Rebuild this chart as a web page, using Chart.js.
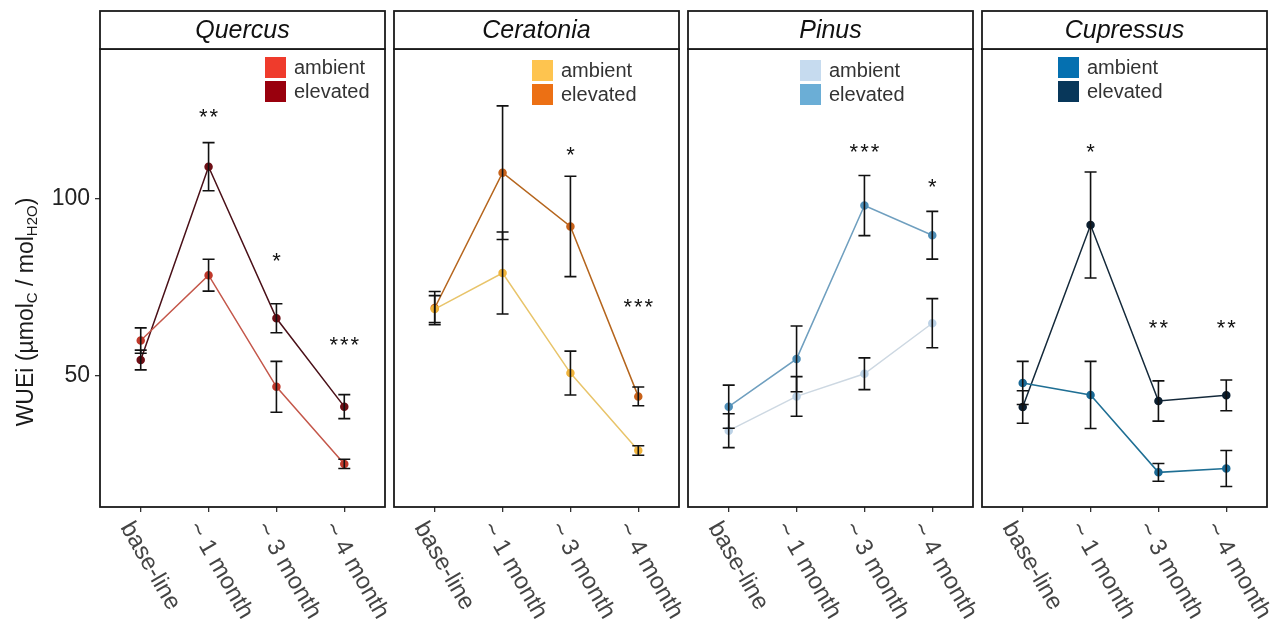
<!DOCTYPE html>
<html>
<head>
<meta charset="utf-8">
<title>WUEi</title>
<script src="https://cdn.jsdelivr.net/npm/chart.js@4.4.1/dist/chart.umd.min.js"></script>
<style>
    html, body { margin: 0; padding: 0; background: #fff; }
    #fig { position: relative; width: 1281px; height: 632px; overflow: hidden; }
    .panel { position: absolute; top: 0; height: 632px; }
</style>
</head>
<body>
<div id="fig">
    <div class="panel" style="left:0;width:421px"><canvas id="canvas-quercus"></canvas></div>
    <div class="panel" style="left:388px;width:327px"><canvas id="canvas-ceratonia"></canvas></div>
    <div class="panel" style="left:682px;width:327px"><canvas id="canvas-pinus"></canvas></div>
    <div class="panel" style="left:976px;width:305px"><canvas id="canvas-cupressus"></canvas></div>
</div>
<script>
'use strict';

/* global Chart */

const categories = ['base-line', '~ 1 month', '~ 3 month', '~ 4 month'];
const yTicks = [50, 100];

// Quercus
const quercusAmbient = [59.9, 78.4, 46.8, 25.0];
const quercusAmbientSe = [3.6, 4.5, 7.2, 1.3];
const quercusElevated = [54.4, 109.1, 66.2, 41.2];
const quercusElevatedSe = [2.8, 6.8, 4.1, 3.4];
const quercusSig = ['', '**', '*', '***'];
const quercusSigY = [null, 124.6, 83.9, 60.1];

// Ceratonia
const ceratoniaAmbient = [68.8, 79.0, 50.7, 28.8];
const ceratoniaAmbientSe = [3.8, 11.6, 6.2, 1.35];
const ceratoniaElevated = [69.1, 107.4, 92.2, 44.1];
const ceratoniaElevatedSe = [4.7, 18.9, 14.2, 2.65];
const ceratoniaSig = ['', '', '*', '***'];
const ceratoniaSigY = [null, null, 113.9, 70.7];

// Pinus
const pinusAmbient = [34.4, 44.1, 50.5, 64.8];
const pinusAmbientSe = [4.8, 5.6, 4.5, 6.95];
const pinusElevated = [41.2, 54.7, 98.1, 89.7];
const pinusElevatedSe = [6.1, 9.3, 8.5, 6.75];
const pinusSig = ['', '', '***', '*'];
const pinusSigY = [null, null, 114.6, 104.9];

// Cupressus
const cupressusAmbient = [47.9, 44.5, 22.6, 23.7];
const cupressusAmbientSe = [6.1, 9.5, 2.5, 5.1];
const cupressusElevated = [41.1, 92.6, 42.8, 44.4];
const cupressusElevatedSe = [4.6, 15.0, 5.7, 4.35];
const cupressusSig = ['', '*', '**', '**'];
const cupressusSigY = [null, 114.8, 65.0, 65.0];

const FONT = "'Liberation Sans', Arial, sans-serif";

// Tout le décor autour du graphique : bandeau, cadre, légende, barres d'erreur, étoiles
const panelDeco = {
    id: 'panelDeco',
    afterDatasetsDraw(chart, args, o) {
        const c = chart.ctx;
        const xs = chart.scales.x;
        const ys = chart.scales.y;
        // barres d'erreur
        c.save();
        c.strokeStyle = '#111';
        c.lineWidth = 1.6;
        chart.data.datasets.forEach(ds => {
            ds.data.forEach((p, i) => {
                const x = xs.getPixelForValue(p.x);
                const yT = ys.getPixelForValue(p.y + ds.se[i]);
                const yB = ys.getPixelForValue(p.y - ds.se[i]);
                c.beginPath();
                c.moveTo(x, yT); c.lineTo(x, yB);
                c.moveTo(x - 6, yT); c.lineTo(x + 6, yT);
                c.moveTo(x - 6, yB); c.lineTo(x + 6, yB);
                c.stroke();
            });
        });
        // étoiles de significativité
        c.fillStyle = '#111';
        c.font = '22px ' + FONT;
        c.letterSpacing = '2px';
        c.textAlign = 'center';
        c.textBaseline = 'alphabetic';
        o.sig.forEach((s, i) => {
            if (!s) return;
            c.fillText(s, xs.getPixelForValue(i) + 1, ys.getPixelForValue(o.sigY[i]) + 12);
        });
        c.restore();
    },
    afterDraw(chart, args, o) {
        const c = chart.ctx;
        const a = chart.chartArea;
        const xs = chart.scales.x;
        c.save();
        // cadre du panneau
        c.strokeStyle = '#1a1a1a';
        c.lineWidth = 1.8;
        c.strokeRect(a.left, a.top, a.right - a.left, a.bottom - a.top);
        // bandeau du titre
        c.fillStyle = '#fff';
        c.fillRect(a.left, a.top - 38, a.right - a.left, 38);
        c.strokeRect(a.left, a.top - 38, a.right - a.left, 38);
        c.fillStyle = '#111';
        c.font = 'italic 25px ' + FONT;
        c.textAlign = 'center';
        c.textBaseline = 'middle';
        c.fillText(o.title, (a.left + a.right) / 2, a.top - 18);
        // légende
        c.font = '20px ' + FONT;
        c.textAlign = 'left';
        chart.data.datasets.forEach((ds, k) => {
            const lx = a.left + o.legendX;
            const ly = a.top + o.legendY + k * 24;
            c.fillStyle = ds.legendColor;
            c.fillRect(lx, ly, 21, 21);
            c.fillStyle = '#333';
            c.fillText(ds.label, lx + 29, ly + 11);
        });
        // étiquettes de l'axe x, tournées
        c.fillStyle = '#444';
        c.font = '24px ' + FONT;
        c.textBaseline = 'middle';
        categories.forEach((lab, i) => {
            c.save();
            c.translate(xs.getPixelForValue(i) - 15, a.bottom + 17);
            c.rotate(Math.PI / 3);
            c.fillText(lab, 0, 0);
            c.restore();
        });
        // titre de l'axe y (seulement le premier panneau)
        if (o.yTitle) {
            const parts = [
                ['WUEi (\u00b5mol', 23, 0],
                ['C', 15, 6],
                [' / mol', 23, 0],
                ['H2O', 15, 6],
                [')', 23, 0]
            ];
            let total = 0;
            parts.forEach(p => { c.font = p[1] + 'px ' + FONT; total += c.measureText(p[0]).width; });
            c.translate(27, 312);
            c.rotate(-Math.PI / 2);
            c.fillStyle = '#1a1a1a';
            c.textBaseline = 'middle';
            let x = -total / 2;
            parts.forEach(p => {
                c.font = p[1] + 'px ' + FONT;
                c.fillText(p[0], x, p[2]);
                x += c.measureText(p[0]).width;
            });
        }
        c.restore();
    }
};

function makePanel(canvasId, cfg) {
    const ctx = document.getElementById(canvasId).getContext('2d');
    const toPoints = arr => arr.map((v, i) => ({ x: i, y: v }));
    // eslint-disable-next-line no-unused-vars
    return new Chart(ctx, {
        type: 'line',
        data: {
            datasets: [
                {
                    label: 'ambient',
                    data: toPoints(cfg.ambient),
                    se: cfg.ambientSe,
                    legendColor: cfg.colors[0],
                    borderColor: cfg.colors[1],
                    pointBackgroundColor: cfg.colors[2],
                    pointBorderColor: cfg.colors[2],
                    borderWidth: 1.5,
                    pointRadius: 3.5,
                    tension: 0
                },
                {
                    label: 'elevated',
                    data: toPoints(cfg.elevated),
                    se: cfg.elevatedSe,
                    legendColor: cfg.colors[3],
                    borderColor: cfg.colors[4],
                    pointBackgroundColor: cfg.colors[5],
                    pointBorderColor: cfg.colors[5],
                    borderWidth: 1.5,
                    pointRadius: 3.5,
                    tension: 0
                }
            ]
        },
        options: {
            responsive: true,
            maintainAspectRatio: false,
            animation: false,
            events: [],
            layout: { padding: { left: cfg.padLeft, right: cfg.padRight, top: 49, bottom: 0 } },
            plugins: {
                legend: { display: false },
                tooltip: { enabled: false },
                panelDeco: {
                    title: cfg.title,
                    sig: cfg.sig,
                    sigY: cfg.sigY,
                    legendX: cfg.legendX,
                    legendY: cfg.legendY,
                    yTitle: cfg.showY
                }
            },
            scales: {
                x: {
                    type: 'linear',
                    min: -0.6,
                    max: 3.6,
                    afterBuildTicks: axis => { axis.ticks = categories.map((c, i) => ({ value: i })); },
                    afterFit: axis => { axis.height = 125; },
                    ticks: { display: false },
                    grid: { drawOnChartArea: false, drawTicks: true, tickLength: 5, color: '#333', lineWidth: 1.3 },
                    border: { display: false }
                },
                y: {
                    min: 12.8,
                    max: 142.4,
                    display: cfg.showY,
                    afterBuildTicks: axis => { axis.ticks = yTicks.map(v => ({ value: v })); },
                    afterFit: axis => { axis.width = cfg.showY ? 100 : 0; },
                    ticks: { color: '#222', padding: 5, font: { family: FONT, size: 23 } },
                    grid: { drawOnChartArea: false, drawTicks: true, tickLength: 5, color: '#333', lineWidth: 1.3 },
                    border: { display: false }
                }
            }
        },
        plugins: [panelDeco]
    });
}

document.addEventListener('DOMContentLoaded', function () {
    makePanel('canvas-quercus', {
        title: 'Quercus', showY: true, padLeft: 0, padRight: 36, legendX: 165, legendY: 8,
        ambient: quercusAmbient, ambientSe: quercusAmbientSe,
        elevated: quercusElevated, elevatedSe: quercusElevatedSe,
        sig: quercusSig, sigY: quercusSigY,
        colors: ['#ef3b2c', '#c4574a', '#c0392b', '#99000d', '#4a1018', '#6e0f16']
    });
    makePanel('canvas-ceratonia', {
        title: 'Ceratonia', showY: false, padLeft: 6, padRight: 36, legendX: 138, legendY: 11,
        ambient: ceratoniaAmbient, ambientSe: ceratoniaAmbientSe,
        elevated: ceratoniaElevated, elevatedSe: ceratoniaElevatedSe,
        sig: ceratoniaSig, sigY: ceratoniaSigY,
        colors: ['#fec44f', '#e8c46a', '#f0b43c', '#ec7014', '#b5651d', '#c8621a']
    });
    makePanel('canvas-pinus', {
        title: 'Pinus', showY: false, padLeft: 6, padRight: 36, legendX: 112, legendY: 11,
        ambient: pinusAmbient, ambientSe: pinusAmbientSe,
        elevated: pinusElevated, elevatedSe: pinusElevatedSe,
        sig: pinusSig, sigY: pinusSigY,
        colors: ['#c6dbef', '#cdd8e2', '#bcd2e6', '#6baed6', '#6f9fbf', '#4f8fb8']
    });
    makePanel('canvas-cupressus', {
        title: 'Cupressus', showY: false, padLeft: 6, padRight: 14, legendX: 76, legendY: 8,
        ambient: cupressusAmbient, ambientSe: cupressusAmbientSe,
        elevated: cupressusElevated, elevatedSe: cupressusElevatedSe,
        sig: cupressusSig, sigY: cupressusSigY,
        colors: ['#0570b0', '#1f6f94', '#1a6a96', '#08375a', '#14293a', '#0c1f30']
    });
});
</script>
</body>
</html>
